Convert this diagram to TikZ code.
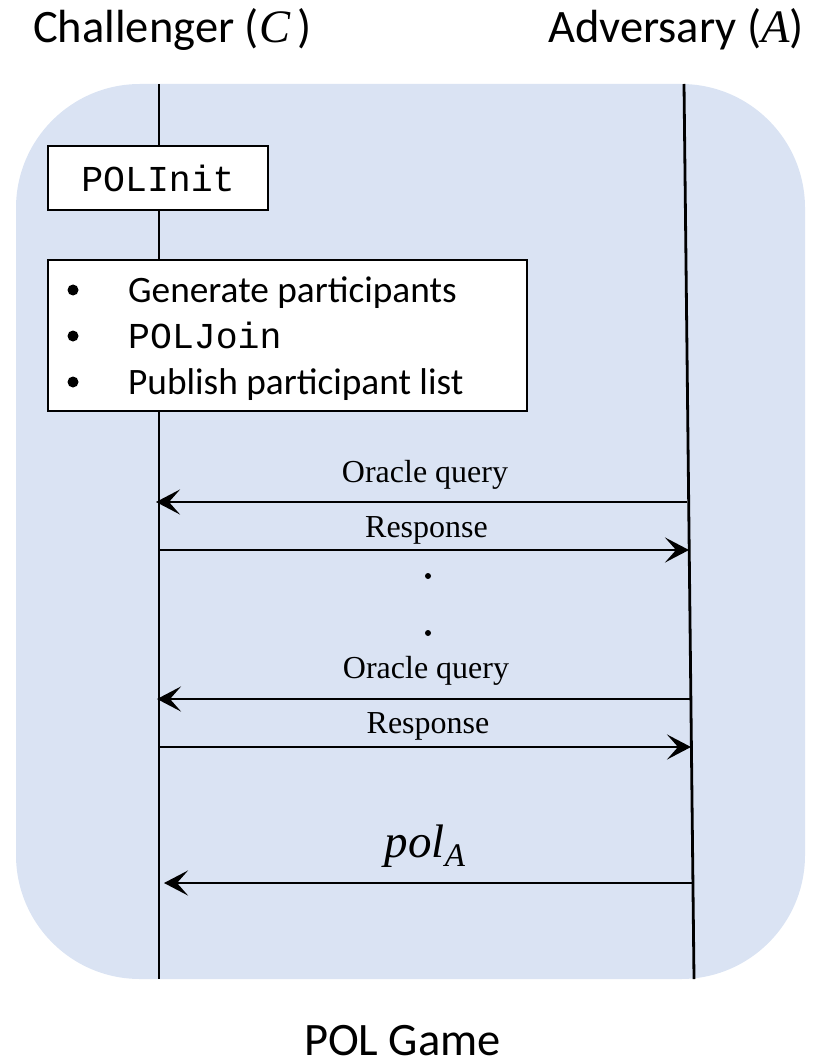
\documentclass[tikz,border=0pt]{standalone}
\usepackage{fontspec}
\setmainfont{Carlito}
\setmonofont{Liberation Mono}
\newfontfamily\labelfont{Liberation Serif}
\newcommand\varit[1]{{\labelfont\itshape #1}}
\usetikzlibrary{arrows.meta}
\definecolor{panel}{HTML}{DAE3F3}

\begin{document}
\begin{tikzpicture}[x=1pt,y=-1pt,
  lifeline/.style={line width=2.8pt},
  msg/.style={line width=2.8pt,-{Stealth[length=24pt,width=25pt,inset=11pt]}},
  box/.style={draw,line width=2.6pt,fill=white,inner sep=0pt},
  title/.style={font=\fontsize{46.5}{56}\selectfont,anchor=base,inner sep=0pt},
  item/.style={font=\fontsize{37.3}{44}\selectfont,anchor=base west,inner sep=0pt},
  lbl/.style={font=\labelfont\fontsize{32}{37}\selectfont,anchor=base,inner sep=0pt},
  dotmark/.style={fill=black}
]
\useasboundingbox (0,0) rectangle (834,1064);

% game panel
\fill[panel,rounded corners=124pt] (16,84) rectangle (805,979);

% party names
\node[title] (chal) at (172.5,43) {Challenger (\varit{C}\,)};
\node[title] (adv)  at (676,43) {Adversary (\varit{A})};

% lifelines
\coordinate (Ctop) at (159,84);  \coordinate (Cbot) at (159,979);
\coordinate (Atop) at (684,84);  \coordinate (Abot) at (694,979);
\draw[lifeline] (Ctop) -- (Cbot);
\draw[lifeline] (Atop) -- (Abot);

% setup steps of the challenger
\node[box,minimum width=220pt,minimum height=64pt] (init) at (158,178)
  {\fontsize{36.5}{44}\selectfont\ttfamily POLInit};
\node[box,minimum width=479pt,minimum height=151pt] (setup) at (287.5,335.5) {};
\fill[dotmark] (73,290) circle (5.5pt);
\fill[dotmark] (73,336) circle (5.5pt);
\fill[dotmark] (73,382) circle (5.5pt);
\node[item] (gen) at (128,302) {Generate participants};
\node[item] (join) at (128,348) {\fontsize{36.5}{44}\selectfont\ttfamily POLJoin};
\node[item] (pub) at (128,394) {Publish participant list};

% message endpoints on the lifelines
\coordinate (A1) at (687,502); \coordinate (C1) at (156,502);
\coordinate (C2) at (159,550); \coordinate (A2) at (689,550);
\coordinate (A3) at (690,699); \coordinate (C3) at (157,699);
\coordinate (C4) at (159,747); \coordinate (A4) at (691,747);
\coordinate (A5) at (693,883); \coordinate (C5) at (164,883);

% oracle rounds
\node[lbl] (q1) at (425,482) {Oracle query};
\draw[msg] (A1) -- (C1);
\node[lbl] (r1) at (426.5,537) {Response};
\draw[msg] (C2) -- (A2);
\fill[dotmark] (428,576) coordinate (d1) circle (3pt);
\fill[dotmark] (428,633) coordinate (d2) circle (3pt);
\node[lbl] (q2) at (426,678) {Oracle query};
\draw[msg] (A3) -- (C3);
\node[lbl] (r2) at (428,733) {Response};
\draw[msg] (C4) -- (A4);

% final output of the adversary
\node[anchor=base,inner sep=0pt,font=\labelfont\itshape\fontsize{47}{56}\selectfont] (out) at (425,857)
  {pol\raisebox{-9pt}{\fontsize{33}{38}\selectfont A}};
\draw[msg] (A5) -- (C5);

% caption
\node[title] (cap) at (402.5,1055) {POL Game};
\end{tikzpicture}
\end{document}
